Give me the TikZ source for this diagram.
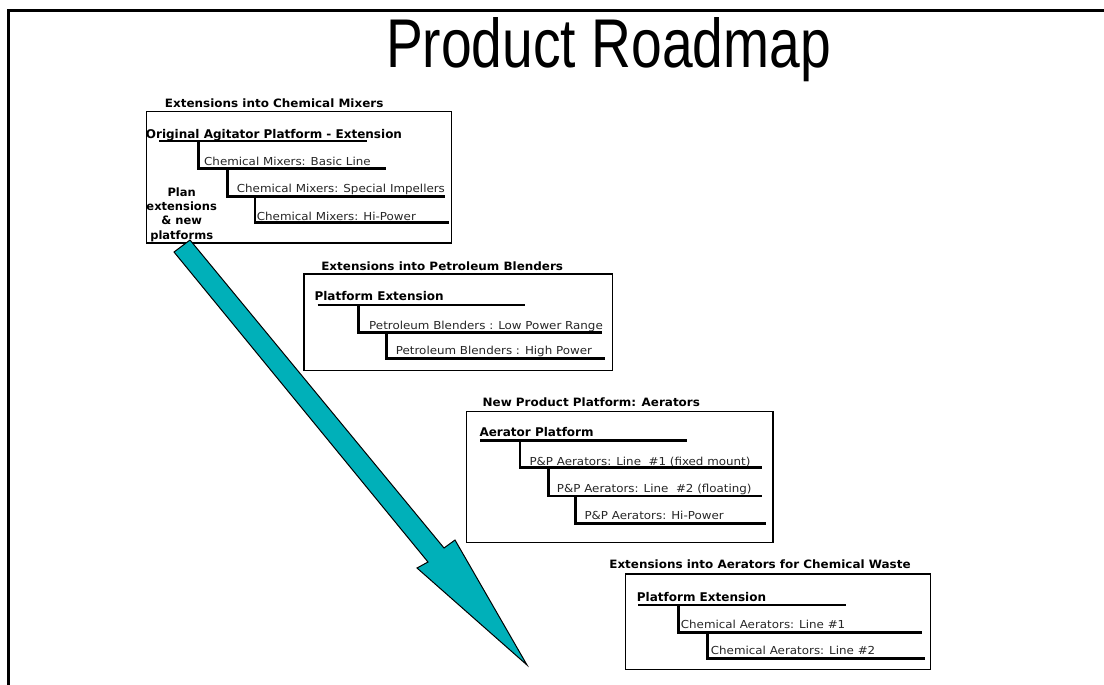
\documentclass[tikz,border=0pt]{standalone}
\usepackage{fontspec}
\setmainfont{DejaVu Sans}
\newfontfamily\titlefont[FakeStretch=0.8]{Liberation Sans}
\newfontfamily\headfont[FakeStretch=1.04]{DejaVu Sans}
\newfontfamily\itemfont[FakeStretch=1.08]{DejaVu Sans}
\definecolor{roadteal}{RGB}{0,176,185}
\tikzset{
    panel/.style={
           draw=black, line width=1.2pt,
           anchor=north west,
           inner sep=0pt,
           },
}
\tikzset{
    heading/.style={
           anchor=base,
           inner sep=0pt,
           font=\headfont\bfseries\fontsize{11.5}{13}\selectfont,
           },
    platform/.style={
           anchor=base west,
           inner sep=0pt,
           font=\bfseries\fontsize{12}{14}\selectfont,
           },
    item/.style={
           anchor=base west,
           inner sep=0pt,
           text=black!85,
           font=\itemfont\fontsize{11}{12}\selectfont,
           },
    tree/.style={
           line width=2.7pt,
           },
    roadarrow/.style={
           draw=black, line width=1pt,
           fill=roadteal,
           line join=miter,
           },
}

\begin{document}
\begin{tikzpicture}[x=1pt,y=-1pt]
\useasboundingbox (0,0) rectangle (1104,685);
\draw[line width=3pt] (8.5,685) -- (8.5,11) -- (1104,11);
\node[anchor=base,inner sep=0pt,font=\titlefont\fontsize{69}{80}\selectfont](roadtitle) at (608.5,67){Product Roadmap};

\node[panel,minimum width=305.3pt,minimum height=131.6pt](mixbox) at (145.7,110.7){};
\node[heading](mixhead) at (274.2,107.3){Extensions into Chemical Mixers};
\node[platform](mixplat) at (145.7,138.5){Original Agitator Platform - Extension};
\node[item](mix1) at (204,165.7){Chemical Mixers: Basic Line};
\node[item](mix2) at (236.7,192.7){Chemical Mixers: Special Impellers};
\node[item](mix3) at (256.7,220){Chemical Mixers: Hi-Power};
\draw[tree] (159.3,141) -- (366.7,141);
\draw[tree] (198.3,141) |- (385.7,168.7);
\draw[tree] (227.7,168.7) |- (445,196.3);
\draw[tree] (255,196.3) |- (449.3,222.3);
\node[anchor=base,inner sep=0pt,align=center,font=\bfseries\fontsize{11.5}{14.3}\selectfont](plantext) at (181.7,239){Plan\\extensions\\\& new\\platforms};

\node[panel,minimum width=308.4pt,minimum height=96.7pt](blendbox) at (303.3,273.3){};
\node[heading](blendhead) at (442.2,270){Extensions into Petroleum Blenders};
\node[platform](blendplat) at (314.3,300.7){Platform Extension};
\node[item](blend1) at (369,329){Petroleum Blenders : Low Power Range};
\node[item](blend2) at (395.7,354.3){Petroleum Blenders : High Power};
\draw[tree] (317.7,305) -- (525.3,305);
\draw[tree] (358.3,305) |- (601.7,332.7);
\draw[tree] (386.7,332.7) |- (605,358.3);

\node[panel,minimum width=306.3pt,minimum height=131pt](aerbox) at (466,410.7){};
\node[heading](aerhead) at (591.3,406){New Product Platform: Aerators};
\node[platform](aerplat) at (479.3,436.7){Aerator Platform};
\node[item](aer1) at (529.3,465){P\&P Aerators: Line\ \ \#1 (fixed mount)};
\node[item](aer2) at (556.7,492.7){P\&P Aerators: Line\ \ \#2 (floating)};
\node[item](aer3) at (584.3,519.3){P\&P Aerators: Hi-Power};
\draw[tree] (480,440.7) -- (687.3,440.7);
\draw[tree] (520,440.7) |- (761.7,467.7);
\draw[tree] (548.3,467.7) |- (762.3,496);
\draw[tree] (575.7,496) |- (765.7,523.3);

\node[panel,minimum width=305pt,minimum height=95.7pt](wastebox) at (625,573.3){};
\node[heading](wastehead) at (760,568.3){Extensions into Aerators for Chemical Waste};
\node[platform](wasteplat) at (636.7,601.7){Platform Extension};
\node[item](waste1) at (680.7,628.3){Chemical Aerators: Line \#1};
\node[item](waste2) at (710.7,654){Chemical Aerators: Line \#2};
\draw[tree] (638.3,605) -- (845.7,605);
\draw[tree] (678.3,605) |- (921.7,632.3);
\draw[tree] (707.3,632.3) |- (925,658.3);

\draw[roadarrow] (174,252) -- (428,562) -- (417,568) -- (527,665) -- (455,540) -- (444,548) -- (190,240) -- cycle;
\end{tikzpicture}
\end{document}
